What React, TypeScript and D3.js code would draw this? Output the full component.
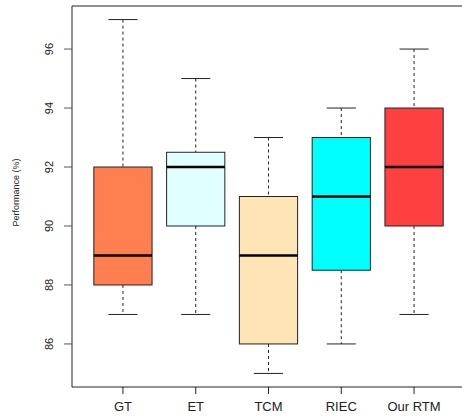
import React from 'react';
import * as d3 from 'd3';

const categories = ['GT', 'ET', 'TCM', 'RIEC', 'Our RTM'];
const whiskerLow = [87, 87, 85, 86, 87];
const q1 = [88, 90, 86, 88.5, 90];
const median = [89, 92, 89, 91, 92];
const q3 = [92, 92.5, 91, 93, 94];
const whiskerHigh = [97, 95, 93, 94, 96];
const colors = ['#FF7F50', '#E0FFFF', '#FFE4B5', '#00FFFF', '#FF4040'];
const yTicks = [86, 88, 90, 92, 94, 96];

const width = 462;
const height = 420;

const App = () => {
    // plot frame (right side runs off the canvas like the original)
    const left = 72, top = 6, bottom = 387, right = 465;

    const x = d3.scaleLinear().domain([0.3, 5.7]).range([left, right]);
    const y = d3.scaleLinear().domain([84.54, 97.46]).range([bottom, top]);
    const boxW = x(1.4) - x(1);
    const capW = x(1.2) - x(1);

    return (
        <svg width={width} height={height} style={{ position: 'absolute', left: 0, top: 0, fontFamily: 'Liberation Sans, Arial, sans-serif' }}>
            <rect width={width} height={height} fill="#fff" />
            {categories.map((c, i) => {
                const cx = x(i + 1);
                return (
                    <g key={c}>
                        <line x1={cx} x2={cx} y1={y(whiskerHigh[i])} y2={y(q3[i])} stroke="#222" strokeDasharray="3,3" />
                        <line x1={cx} x2={cx} y1={y(q1[i])} y2={y(whiskerLow[i])} stroke="#222" strokeDasharray="3,3" />
                        <line x1={cx - capW} x2={cx + capW} y1={y(whiskerHigh[i])} y2={y(whiskerHigh[i])} stroke="#222" />
                        <line x1={cx - capW} x2={cx + capW} y1={y(whiskerLow[i])} y2={y(whiskerLow[i])} stroke="#222" />
                        <rect x={cx - boxW} y={y(q3[i])} width={boxW * 2} height={y(q1[i]) - y(q3[i])}
                            fill={colors[i]} stroke="#222" />
                        <line x1={cx - boxW} x2={cx + boxW} y1={y(median[i])} y2={y(median[i])} stroke="#000" strokeWidth={2.5} />
                    </g>
                );
            })}
            {/* frame */}
            <path d={`M${right},${top}H${left}V${bottom}H${right}`} fill="none" stroke="#222" />
            {/* y axis */}
            {yTicks.map(t => (
                <g key={t}>
                    <line x1={left - 8} x2={left} y1={y(t)} y2={y(t)} stroke="#555" />
                    <text transform={`translate(53,${y(t)}) rotate(-90)`} textAnchor="middle" fontSize={11} fill="#222">{t}</text>
                </g>
            ))}
            <text transform={`translate(19,${(top + bottom) / 2 - 4}) rotate(-90)`} textAnchor="middle" fontSize={9} fill="#222">Performance (%)</text>
            {/* x axis */}
            {categories.map((c, i) => (
                <g key={c}>
                    <line x1={x(i + 1)} x2={x(i + 1)} y1={bottom} y2={bottom + 7} stroke="#222" />
                    <text x={x(i + 1)} y={411} textAnchor="middle" fontSize={13} fill="#222">{c}</text>
                </g>
            ))}
        </svg>
    );
};

export default App;
